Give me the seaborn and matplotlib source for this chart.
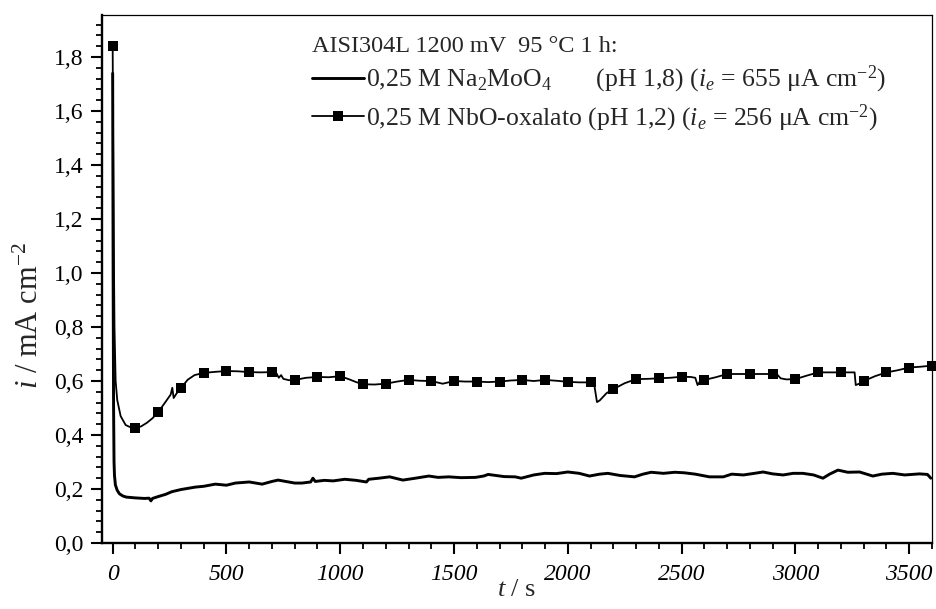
import numpy as np
import pandas as pd
import matplotlib
matplotlib.use("Agg")
import matplotlib.pyplot as plt
from matplotlib.ticker import MultipleLocator, FuncFormatter
import seaborn as sns

# Chronoamperometry of AISI 304L at 1200 mV, 95 °C
t_nbo = [0, 2, 5, 8, 13, 20, 35, 57, 80, 100, 125, 150, 175, 200, 230, 255, 262, 268,
         280, 300, 330, 360, 400, 450, 500, 550, 600, 650, 700, 720, 730, 740, 750, 775,
         800, 850, 900, 950, 1000, 1040, 1070, 1100, 1150, 1200, 1250, 1300, 1350, 1400,
         1450, 1500, 1550, 1600, 1650, 1700, 1750, 1800, 1850, 1900, 1950, 2000, 2050,
         2100, 2115, 2128, 2140, 2170, 2200, 2250, 2300, 2350, 2400, 2450, 2500, 2540,
         2560, 2570, 2580, 2600, 2650, 2700, 2750, 2800, 2850, 2900, 2920, 2935, 2960,
         3000, 3050, 3100, 3150, 3200, 3260, 3265, 3280, 3300, 3350, 3400, 3450, 3500,
         3550, 3600]
i_nbo = [1.84, 1.50, 1.10, 0.80, 0.60, 0.53, 0.47, 0.437, 0.428, 0.425, 0.432, 0.445,
         0.462, 0.485, 0.52, 0.55, 0.575, 0.537, 0.553, 0.574, 0.605, 0.622, 0.630, 0.634,
         0.637, 0.636, 0.633, 0.632, 0.633, 0.628, 0.612, 0.622, 0.608, 0.603, 0.604,
         0.612, 0.615, 0.614, 0.618, 0.606, 0.596, 0.588, 0.587, 0.590, 0.598, 0.604,
         0.601, 0.600, 0.590, 0.600, 0.598, 0.598, 0.596, 0.598, 0.602, 0.604, 0.600,
         0.604, 0.601, 0.597, 0.595, 0.595, 0.592, 0.522, 0.528, 0.555, 0.570, 0.592,
         0.607, 0.608, 0.610, 0.612, 0.616, 0.615, 0.612, 0.585, 0.598, 0.604, 0.614,
         0.626, 0.626, 0.626, 0.626, 0.626, 0.624, 0.610, 0.606, 0.607, 0.620, 0.632,
         0.632, 0.632, 0.632, 0.585, 0.590, 0.600, 0.618, 0.632, 0.640, 0.650, 0.653,
         0.657]

t_mo = [0, 2, 4, 6, 8, 12, 20, 30, 45, 60, 100, 140, 160, 168, 175, 200, 232, 260, 300,
        363, 400, 451, 500, 539, 600, 657, 700, 727, 760, 800, 832, 870, 880, 890, 930,
        969, 1020, 1070, 1115, 1125, 1170, 1217, 1275, 1330, 1389, 1430, 1477, 1530,
        1594, 1630, 1650, 1667, 1720, 1769, 1795, 1850, 1898, 1950, 2000, 2050, 2095,
        2140, 2176, 2230, 2293, 2330, 2366, 2420, 2470, 2512, 2560, 2622, 2683, 2720,
        2771, 2820, 2858, 2900, 2946, 2990, 3033, 3080, 3121, 3150, 3187, 3230, 3282,
        3340, 3380, 3428, 3480, 3545, 3580, 3595]
i_mo = [1.74, 1.00, 0.50, 0.30, 0.25, 0.215, 0.195, 0.182, 0.174, 0.170, 0.167, 0.165,
        0.166, 0.156, 0.165, 0.172, 0.180, 0.190, 0.198, 0.207, 0.210, 0.218, 0.214,
        0.222, 0.226, 0.218, 0.228, 0.233, 0.228, 0.222, 0.222, 0.226, 0.240, 0.228,
        0.232, 0.230, 0.236, 0.232, 0.226, 0.236, 0.240, 0.245, 0.233, 0.240, 0.248,
        0.243, 0.245, 0.242, 0.243, 0.248, 0.254, 0.252, 0.246, 0.245, 0.240, 0.252,
        0.258, 0.257, 0.263, 0.258, 0.248, 0.255, 0.258, 0.250, 0.245, 0.255, 0.262,
        0.258, 0.262, 0.260, 0.255, 0.245, 0.245, 0.255, 0.252, 0.258, 0.263, 0.256,
        0.252, 0.258, 0.258, 0.252, 0.240, 0.255, 0.270, 0.262, 0.263, 0.248, 0.255,
        0.258, 0.252, 0.256, 0.254, 0.240]

legend_title = "AISI304L 1200 mV  95 °C 1 h:"
label_mo = "0,25 M Na$_2$MoO$_4$       (pH 1,8) ($i_e$ = 655 μA cm$^{-2}$)"
label_nbo = "0,25 M NbO-oxalato (pH 1,2) ($i_e$ = 256 μA cm$^{-2}$)"

sns.set_theme(style="ticks")
plt.rcParams["font.family"] = ["Liberation Serif", "DejaVu Serif"]
plt.rcParams["mathtext.fontset"] = "custom"
plt.rcParams["mathtext.rm"] = "Liberation Serif"
plt.rcParams["mathtext.it"] = "Liberation Serif:italic"
plt.rcParams["mathtext.bf"] = "Liberation Serif:bold"

df_mo = pd.DataFrame({"t": t_mo, "i": i_mo})
df_nbo = pd.DataFrame({"t": t_nbo, "i": i_nbo})
mark_idx = [k for k, v in enumerate(t_nbo) if v % 100 == 0]

fig = plt.figure(figsize=(9.36, 6.09), dpi=100)
ax = fig.add_axes([0.1087, 0.1084, 0.8870, 0.8670])

sns.lineplot(data=df_mo, x="t", y="i", ax=ax, color="black", lw=2.1,
             estimator=None, sort=False, label=label_mo)
sns.lineplot(data=df_nbo, x="t", y="i", ax=ax, color="black", lw=1.3,
             estimator=None, sort=False, marker="s", markersize=7.5,
             markevery=mark_idx, markeredgewidth=0, clip_on=False,
             label=label_nbo)

ax.set_xlim(-48, 3600)
ax.set_ylim(0, 1.956)
ax.xaxis.set_major_locator(MultipleLocator(500))
ax.xaxis.set_minor_locator(MultipleLocator(100))
ax.yaxis.set_major_locator(MultipleLocator(0.2))
ax.yaxis.set_minor_locator(MultipleLocator(0.04))
ax.yaxis.set_major_formatter(FuncFormatter(lambda v, p: f"{v:.1f}".replace(".", ",")))
ax.xaxis.set_major_formatter(FuncFormatter(lambda v, p: f"{int(round(v))}"))

ax.tick_params(which="major", direction="out", length=8, width=1.5, labelsize=17,
               colors="black")
ax.tick_params(axis="x", which="major", pad=7)
ax.tick_params(axis="y", which="major", pad=5)
ax.tick_params(which="minor", direction="out", length=4.3, width=1.3, colors="black")
ax.tick_params(top=False, right=False, which="both")
for lab in ax.get_xticklabels():
    lab.set_fontstyle("italic")

for side in ["left", "bottom"]:
    ax.spines[side].set_linewidth(1.7)
for side in ["top", "right"]:
    ax.spines[side].set_linewidth(0.9)
for s in ax.spines.values():
    s.set_color("black")

ax.set_xlabel("$t$ / s", fontsize=19, labelpad=-4)
ax.set_ylabel("$i$ / mA cm$^{-2}$", fontsize=22, labelpad=2)
ax.yaxis.set_label_coords(-0.068, 0.43)

leg = ax.legend(title=legend_title, loc="upper left", bbox_to_anchor=(0.232, 0.995),
                frameon=False, fontsize=18.5, title_fontsize=17.5, handlelength=2.0,
                handletextpad=0.1, labelspacing=0.28, borderaxespad=0.3)
leg._legend_box.align = "left"

fig.savefig("out.png", dpi=100)
